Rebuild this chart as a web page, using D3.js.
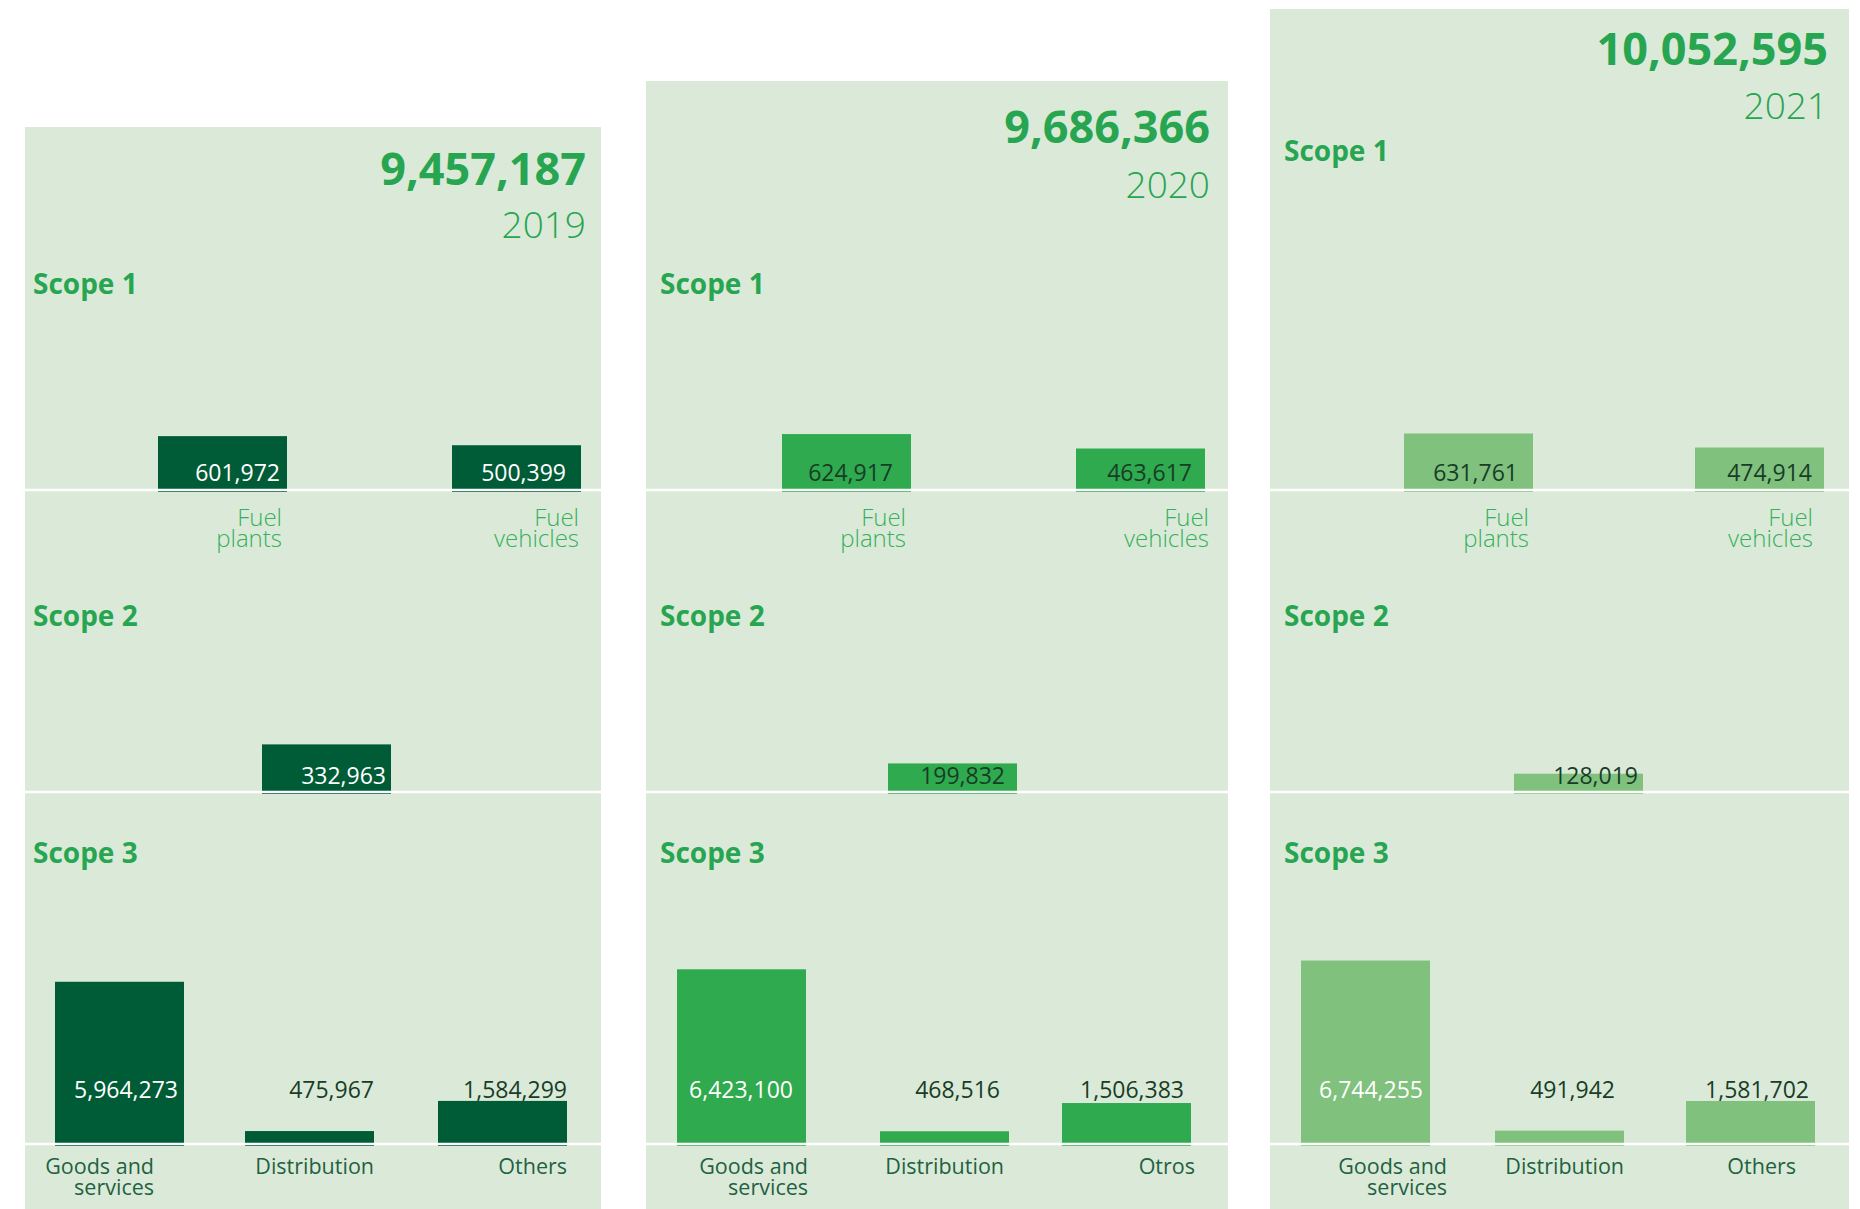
<!DOCTYPE html>
<html>
<head>
<meta charset="utf-8">
<script src="https://cdn.jsdelivr.net/npm/d3@7"></script>
<style>
  body { margin: 0; background: #ffffff; }
  svg { display: block; font-family: "Open Sans", sans-serif; }
</style>
</head>
<body>
<div id="chart"></div>
<script>
// data
var years = ["2019", "2020", "2021"];
var totals = [9457187, 9686366, 10052595];

var scope1Categories = ["Fuel plants", "Fuel vehicles"];
var scope1Values = [
  [601972, 500399],
  [624917, 463617],
  [631761, 474914]
];

var scope2Categories = ["Electricity"];
var scope2Values = [
  [332963],
  [199832],
  [128019]
];

var scope3Categories = [
  ["Goods and services", "Distribution", "Others"],
  ["Goods and services", "Distribution", "Otros"],
  ["Goods and services", "Distribution", "Others"]
];
var scope3Values = [
  [5964273, 475967, 1584299],
  [6423100, 468516, 1506383],
  [6744255, 491942, 1581702]
];

// layout
var svgWidth = 1860;
var svgHeight = 1209;

var panelLeft = [25, 646, 1270];
var panelWidth = [576, 582, 579];
var panelTop = [127, 81, 9];
var totalY = [185, 143, 65];
var yearY = [238, 198, 119];
var titleRight = [15, 18, 21];
var scopeX = [8, 14, 14];
var scope1LabelY = [294, 294, 161];

// bar left edges inside each panel (pixels)
var barW = 129;
var s1X = [[133, 427], [136, 430], [134, 425]];
var s2X = [[237], [242], [244]];
var s3X = [[30, 220, 413], [31, 234, 416], [31, 225, 416]];

// nudges of the texts from the bar's right edge
var s1ValShift = [[-7, -15], [-18, -13], [-15, -12]];
var s1CatShift = [[-5, -2], [-5, 4], [-4, -11]];
var s2ValShift = [-5, -12, -5];
var s3ValShift = [[-6, 0, 0], [-13, -9, -7], [-7, -9, -6]];
var s3CatShift = [[-30, 0, 0], [2, -5, 4], [17, 0, -19]];

var base1 = 490, base2 = 792, base3 = 1144;

var barColor = ["#005c37", "#2faa4f", "#80c17e"];
var valueColor = ["#ffffff", "#173d27", "#173d27"];
var panelColor = "#dbead8";
var titleGreen = "#27a550";
var catGreen = "#36b05c";
var catDark = "#1f6242";

var fmt = d3.format(",");

// bar heights: one linear scale per scope, shared by the three years
var y1 = d3.scaleLinear().domain([0, 1000000]).range([base1, base1 - 89.5]);
var y2 = d3.scaleLinear().domain([0, 1000000]).range([base2, base2 - 143]);
var y3 = d3.scaleLinear().domain([0, 10000000]).range([base3, base3 - 272]);

var svg = d3.select("#chart")
  .append("svg")
  .attr("width", svgWidth)
  .attr("height", svgHeight);

// split a label on its last space -> two lines
function splitLabel(s) {
  var k = s.lastIndexOf(" ");
  if (k < 0) return [s];
  return [s.slice(0, k), s.slice(k + 1)];
}

years.forEach(function(year, i) {
  var w = panelWidth[i];
  var g = svg.append("g")
    .attr("transform", `translate(${panelLeft[i]}, 0)`);

  g.append("rect")
    .attr("x", 0)
    .attr("y", panelTop[i])
    .attr("width", w)
    .attr("height", svgHeight - panelTop[i])
    .attr("fill", panelColor);

  // total and year
  g.append("text")
    .attr("x", w - titleRight[i])
    .attr("y", totalY[i])
    .attr("text-anchor", "end")
    .attr("font-size", 45)
    .attr("font-weight", 700)
    .attr("fill", titleGreen)
    .text(fmt(totals[i]));

  g.append("text")
    .attr("x", w - titleRight[i])
    .attr("y", yearY[i])
    .attr("text-anchor", "end")
    .attr("font-size", 37)
    .attr("font-weight", 300)
    .attr("fill", titleGreen)
    .text(year);

  // scope titles
  var scopeTitles = [["Scope 1", scope1LabelY[i]], ["Scope 2", 626], ["Scope 3", 863]];
  scopeTitles.forEach(function(s) {
    g.append("text")
      .attr("x", scopeX[i])
      .attr("y", s[1])
      .attr("font-size", 28)
      .attr("font-weight", 700)
      .attr("fill", titleGreen)
      .text(s[0]);
  });

  // ---- scope 1
  var x1 = d3.scaleOrdinal().domain(scope1Categories).range(s1X[i]);
  var s1 = scope1Categories.map((c, j) => ({cat: c, value: scope1Values[i][j], j: j}));
  g.selectAll(".bar1")
    .data(s1)
    .enter()
    .append("rect")
    .attr("x", d => x1(d.cat))
    .attr("y", d => y1(d.value))
    .attr("width", barW)
    .attr("height", d => y1(0) - y1(d.value) + 2)
    .attr("fill", barColor[i]);

  g.selectAll(".val1")
    .data(s1)
    .enter()
    .append("text")
    .attr("x", d => x1(d.cat) + barW + s1ValShift[i][d.j])
    .attr("y", base1 - 9)
    .attr("text-anchor", "end")
    .attr("font-size", 23)
    .attr("fill", valueColor[i])
    .text(d => fmt(d.value));

  s1.forEach(function(d) {
    var t = g.append("text")
      .attr("text-anchor", "end")
      .attr("font-size", 24)
      .attr("font-weight", 300)
      .attr("fill", catGreen);
    splitLabel(d.cat).forEach(function(line, k) {
      t.append("tspan")
        .attr("x", x1(d.cat) + barW + s1CatShift[i][d.j])
        .attr("y", base1 + 36 + k * 21)
        .text(line);
    });
  });

  // ---- scope 2
  var x2 = d3.scaleOrdinal().domain(scope2Categories).range(s2X[i]);
  var s2 = scope2Categories.map((c, j) => ({cat: c, value: scope2Values[i][j]}));
  g.selectAll(".bar2")
    .data(s2)
    .enter()
    .append("rect")
    .attr("x", d => x2(d.cat))
    .attr("y", d => y2(d.value))
    .attr("width", barW)
    .attr("height", d => y2(0) - y2(d.value) + 2)
    .attr("fill", barColor[i]);

  g.selectAll(".val2")
    .data(s2)
    .enter()
    .append("text")
    .attr("x", d => x2(d.cat) + barW + s2ValShift[i])
    .attr("y", base2 - 8)
    .attr("text-anchor", "end")
    .attr("font-size", 23)
    .attr("fill", valueColor[i])
    .text(d => fmt(d.value));

  // ---- scope 3
  var x3 = d3.scaleOrdinal().domain(scope3Categories[i]).range(s3X[i]);
  var s3 = scope3Categories[i].map((c, j) => ({cat: c, value: scope3Values[i][j], j: j}));
  g.selectAll(".bar3")
    .data(s3)
    .enter()
    .append("rect")
    .attr("x", d => x3(d.cat))
    .attr("y", d => y3(d.value))
    .attr("width", barW)
    .attr("height", d => y3(0) - y3(d.value) + 2)
    .attr("fill", barColor[i]);

  g.selectAll(".val3")
    .data(s3)
    .enter()
    .append("text")
    .attr("x", d => x3(d.cat) + barW + s3ValShift[i][d.j])
    .attr("y", base3 - 46)
    .attr("text-anchor", "end")
    .attr("font-size", 23)
    .attr("fill", d => d.j === 0 ? "#ffffff" : "#173d27")
    .text(d => fmt(d.value));

  s3.forEach(function(d) {
    var t = g.append("text")
      .attr("text-anchor", "end")
      .attr("font-size", 21.5)
      .attr("fill", catDark);
    splitLabel(d.cat).forEach(function(line, k) {
      t.append("tspan")
        .attr("x", x3(d.cat) + barW + s3CatShift[i][d.j])
        .attr("y", base3 + 30 + k * 21)
        .text(line);
    });
  });

  // white baselines
  [base1, base2, base3].forEach(function(b) {
    g.append("line")
      .attr("x1", 0)
      .attr("x2", w)
      .attr("y1", b)
      .attr("y2", b)
      .attr("stroke", "#ffffff")
      .attr("stroke-width", 2.5);
  });
});
</script>
</body>
</html>
